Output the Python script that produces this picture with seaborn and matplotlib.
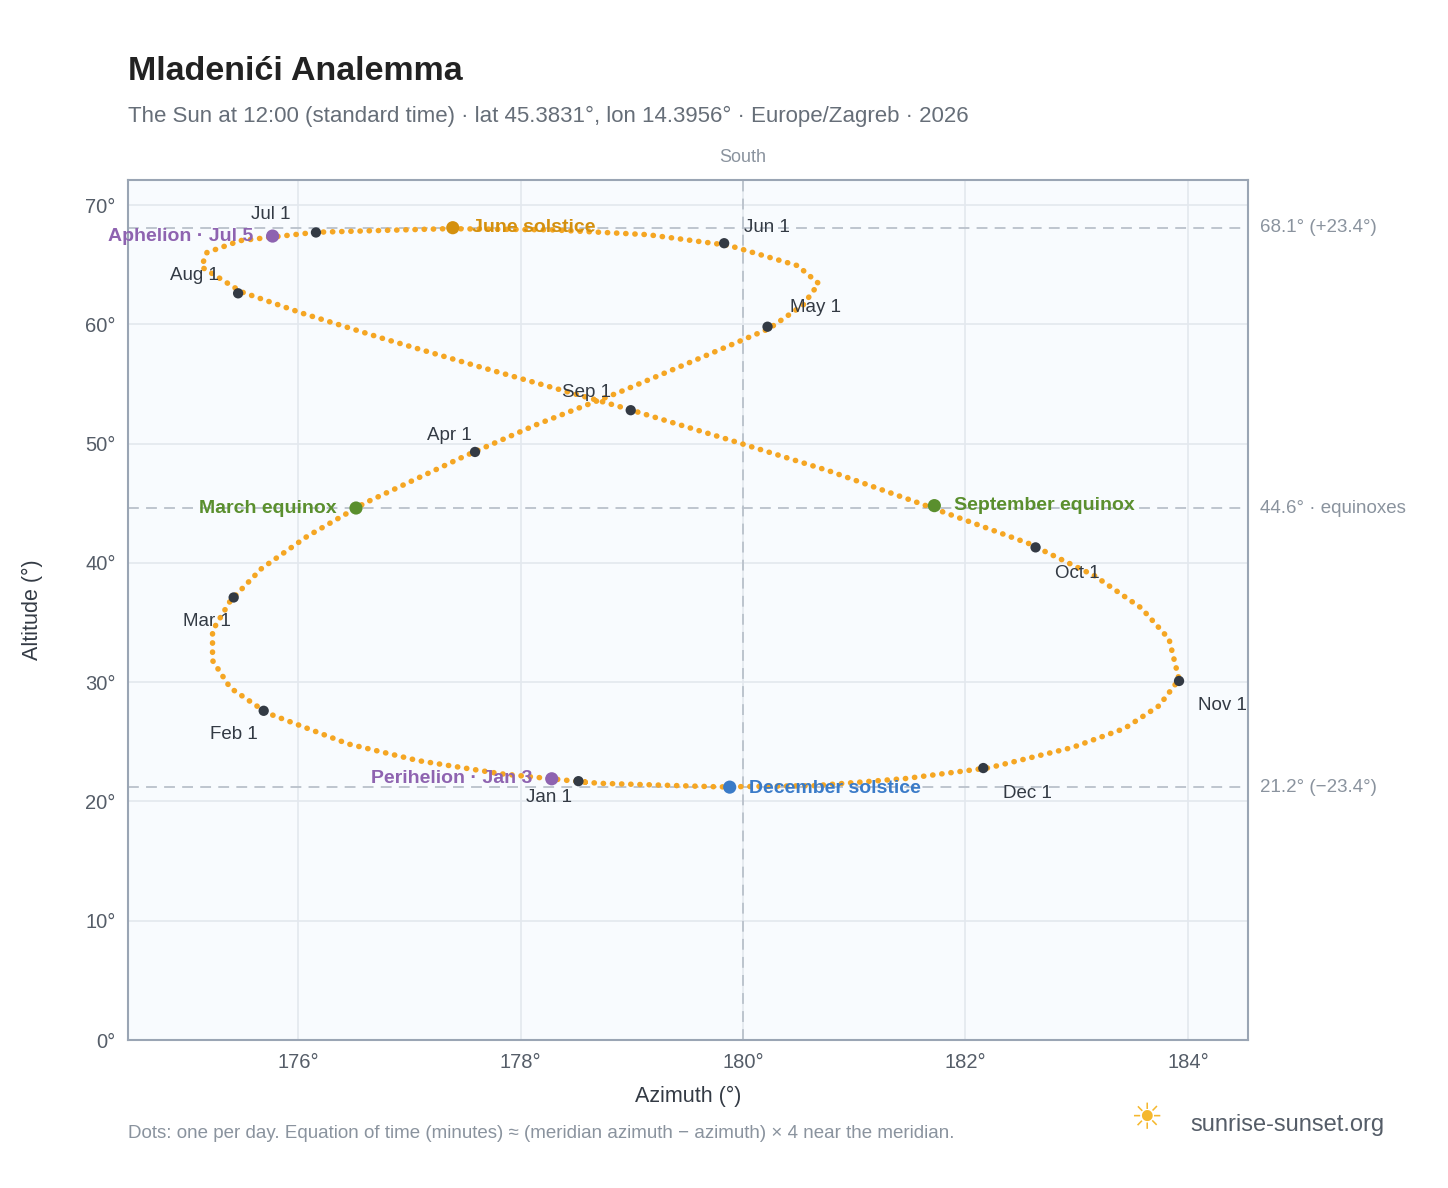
import matplotlib
matplotlib.use("Agg")
import matplotlib.pyplot as plt
import seaborn as sns
import pandas as pd

# Weekly sun positions at 12:00 standard time (azimuth, altitude)
dates = ["Jan1","Jan8","Jan15","Jan22","Feb1","Feb8","Feb15","Feb22","Mar1","Mar8","Mar15","Mar22",
         "Apr1","Apr8","Apr15","Apr22","May1","May8","May15","May22","Jun1","Jun8","Jun15","Jun22",
         "Jul1","Jul8","Jul15","Jul22","Aug1","Aug8","Aug15","Aug22","Sep1","Sep8","Sep15","Sep22",
         "Oct1","Oct8","Oct15","Oct22","Nov1","Nov8","Nov15","Nov22","Dec1","Dec8","Dec15","Dec22","Dec31"]
azimuth = [178.58,177.82,177.08,176.45,175.72,175.39,175.23,175.23,175.39,175.67,176.08,176.60,
           177.49,178.15,178.89,179.50,180.23,180.54,180.68,180.49,179.87,179.14,178.28,177.35,
           176.16,175.48,175.18,175.13,175.49,176.04,176.76,177.60,178.92,179.84,180.77,181.58,
           182.57,183.16,183.58,183.83,183.92,183.74,183.43,182.96,182.21,181.46,180.64,179.80,178.71]
altitude = [21.62,22.32,23.42,24.82,27.42,29.52,31.82,34.32,36.82,39.52,42.22,45.02,
            48.92,51.62,54.32,56.72,59.62,61.62,63.42,64.92,66.62,67.52,67.92,68.02,
            67.72,67.02,66.02,64.82,62.72,60.92,58.82,56.52,53.02,50.42,47.72,45.02,
            41.62,38.92,36.22,33.62,30.22,28.02,26.12,24.52,22.82,21.92,21.32,21.22,21.52]

month_labels = ["Jan 1","Feb 1","Mar 1","Apr 1","May 1","Jun 1","Jul 1","Aug 1","Sep 1","Oct 1","Nov 1","Dec 1"]
month_az = [178.52,175.69,175.42,177.59,180.22,179.83,176.16,175.46,178.99,182.63,183.92,182.16]
month_alt = [21.7,27.6,37.1,49.3,59.8,66.8,67.7,62.6,52.8,41.3,30.1,22.8]

event_labels = ["March equinox","June solstice","September equinox","December solstice","Perihelion · Jan 3","Aphelion · Jul 5"]
event_az = [176.52,177.39,181.72,179.88,178.28,175.77]
event_alt = [44.6,68.1,44.8,21.2,21.9,67.4]
event_colors = ["#5a8f2e","#d4900e","#5a8f2e","#3a7bc8","#8e63b0","#8e63b0"]

ref_lines = [68.1, 44.6, 21.2]
ref_labels = ["68.1° (+23.4°)", "44.6° · equinoxes", "21.2° (−23.4°)"]

sns.set_theme(style="white")
plt.rcParams['font.family'] = ['Liberation Sans', 'DejaVu Sans']

fig = plt.figure(figsize=(14.48, 11.88), dpi=100)
ax = fig.add_axes([128/1448, 1-1040/1188, 1120/1448, 860/1188])
ax.set_facecolor("#f8fbfe")
for s in ax.spines.values():
    s.set_color("#9aa5b4"); s.set_linewidth(1.5)
ax.set_xlim(174.47, 184.54)
ax.set_ylim(0, 72.1)
ax.grid(True, color="#e3e8ee", linewidth=1.2)
ax.set_axisbelow(True)

for y in ref_lines:
    ax.axhline(y, color="#b9c1cb", linestyle=(0, (6, 4)), linewidth=1.3, zorder=1)
ax.axvline(180, color="#b9c1cb", linestyle=(0, (6, 4)), linewidth=1.3, zorder=1)

df = pd.DataFrame({"az": azimuth + azimuth[:1], "alt": altitude + altitude[:1],
                   "order": list(range(len(azimuth) + 1))})
sns.lineplot(data=df, x="az", y="alt", sort=False, estimator=None, units=None, ax=ax, color="#f5a623",
             linewidth=4, linestyle=(0, (0.05, 1.6)), dash_capstyle="round", zorder=2)

mdf = pd.DataFrame({"az": month_az, "alt": month_alt})
sns.scatterplot(data=mdf, x="az", y="alt", ax=ax, color="#333a44", s=55, edgecolor="none", zorder=4)
moff = [(-5,-12,"right"),(-4,-17,"right"),(-2,-17,"right"),(-2,12,"right"),(16,14,"left"),(14,11,"left"),
        (-18,13,"right"),(-14,13,"right"),(-14,13,"right"),(14,-19,"left"),(14,-18,"left"),(14,-18,"left")]
for lab, x, y, (dx, dy, ha) in zip(month_labels, month_az, month_alt, moff):
    ax.annotate(lab, (x, y), xytext=(dx, dy), textcoords="offset points", ha=ha, va="center",
                fontsize=13.5, color="#333a44")

edf = pd.DataFrame({"az": event_az, "alt": event_alt, "c": event_labels})
sns.scatterplot(data=edf, x="az", y="alt", hue="c", palette=dict(zip(event_labels, event_colors)),
                ax=ax, s=90, edgecolor="none", zorder=5, legend=False)
eoff = [(-14,0,"right"),(14,0,"left"),(14,0,"left"),(14,-1,"left"),(-14,0,"right"),(-14,0,"right")]
for lab, x, y, c, (dx, dy, ha) in zip(event_labels, event_az, event_alt, event_colors, eoff):
    ax.annotate(lab, (x, y), xytext=(dx, dy), textcoords="offset points", ha=ha, va="center",
                fontsize=14, color=c, fontweight="bold", zorder=6)

ax.set_xticks([176, 178, 180, 182, 184])
ax.set_xticklabels(["176°", "178°", "180°", "182°", "184°"])
ax.set_yticks(range(0, 71, 10))
ax.set_yticklabels([f"{v}°" for v in range(0, 71, 10)])
ax.tick_params(labelsize=14.5, colors="#555d68", length=0, pad=9)
ax.set_xlabel("Azimuth (°)", fontsize=15.5, color="#333a44", labelpad=10)
ax.set_ylabel("Altitude (°)", fontsize=15.5, color="#333a44", labelpad=30)

for y, t in zip(ref_lines, ref_labels):
    ax.annotate(t, (1, y), xycoords=("axes fraction", "data"), xytext=(9, 0), textcoords="offset points",
                va="center", ha="left", fontsize=13.5, color="#8a939e", annotation_clip=False)
ax.annotate("South", (180, 1), xycoords=("data", "axes fraction"), xytext=(0, 10), textcoords="offset points",
            ha="center", va="bottom", fontsize=13, color="#8a939e", annotation_clip=False)

fig.text(128/1448, 1-72/1188, "Mladenići Analemma", fontsize=24.5, fontweight="bold", color="#222222", va="center")
fig.text(128/1448, 1-116/1188, "The Sun at 12:00 (standard time) · lat 45.3831°, lon 14.3956° · Europe/Zagreb · 2026",
         fontsize=16, color="#666e78", va="center")
fig.text(128/1448, 1-1134/1188, "Dots: one per day. Equation of time (minutes) ≈ (meridian azimuth − azimuth) × 4 near the meridian.",
         fontsize=13.5, color="#8a939e", va="center")
fig.text(1190/1448, 1-1125/1188, "sunrise-sunset.org", fontsize=17, color="#555d68", va="center")
fig.text(1146/1448, 1-1120/1188, "☀", fontsize=26, color="#f5b82e", va="center", ha="center")

fig.savefig("out.png", dpi=100)
